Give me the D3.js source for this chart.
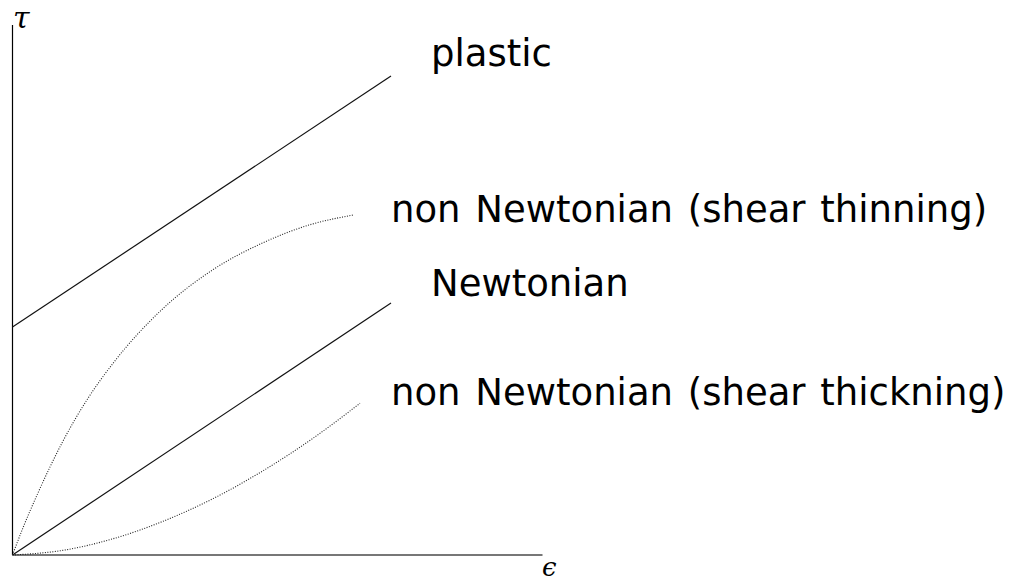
<!DOCTYPE html>
<html>
<head>
<meta charset="utf-8">
<script src="https://cdn.jsdelivr.net/npm/d3@7"></script>
<style>
  html, body { margin: 0; padding: 0; background: #fff; }
  svg { display: block; }
</style>
</head>
<body>
<svg id="chart" width="1013" height="584"></svg>
<script>
// Shear strain (epsilon) vs shear stress (tau) for several fluid models
const plasticX = [0, 3.785];
const plasticY = [2.28, 4.79];

const newtonianX = [0, 3.785];
const newtonianY = [0, 2.52];

const thinningX = [0, 0.1, 0.25, 0.5, 0.75, 1.0, 1.5, 2.0, 2.5, 3.0, 3.41];
const thinningY = [0, 0.26, 0.61, 1.13, 1.56, 1.91, 2.46, 2.85, 3.12, 3.31, 3.40];

const thickeningX = [0, 0.5, 1.0, 1.5, 2.0, 2.5, 3.0, 3.475];
const thickeningY = [0, 0.046, 0.161, 0.335, 0.561, 0.839, 1.164, 1.517];

const labelTexts = ["plastic", "non Newtonian (shear thinning)", "Newtonian", "non Newtonian (shear thickning)"];
const labelX = [4.185, 3.785, 4.185, 3.785];
const labelY = [4.89, 3.33, 2.59, 1.50];

const svg = d3.select("#chart");

const x = d3.scaleLinear().domain([0, 5.3]).range([12.5, 542.5]);
const y = d3.scaleLinear().domain([0, 5.3]).range([555, 25]);

const line = d3.line().x(d => x(d[0])).y(d => y(d[1]));
const smooth = d3.line().x(d => x(d[0])).y(d => y(d[1])).curve(d3.curveMonotoneX);
const zip = (a, b) => a.map((v, i) => [v, b[i]]);

// axes
svg.append("line")
  .attr("x1", x(0)).attr("x2", x(0))
  .attr("y1", y(0)).attr("y2", y(5.3))
  .attr("stroke", "#000").attr("stroke-width", 1.2);
svg.append("line")
  .attr("x1", x(0)).attr("x2", x(5.3))
  .attr("y1", y(0)).attr("y2", y(0))
  .attr("stroke", "#777").attr("stroke-width", 2);

// axis symbols
svg.append("text")
  .attr("x", 13).attr("y", 28)
  .attr("font-family", "DejaVu Serif")
  .attr("font-style", "italic")
  .attr("font-size", 30)
  .text("τ");
svg.append("text")
  .attr("x", 542).attr("y", 576)
  .attr("font-family", "DejaVu Serif")
  .attr("font-style", "italic")
  .attr("font-size", 26)
  .text("ϵ");

// straight lines
svg.append("path").datum(zip(plasticX, plasticY))
  .attr("d", line).attr("fill", "none")
  .attr("stroke", "#111").attr("stroke-width", 1.2);
svg.append("path").datum(zip(newtonianX, newtonianY))
  .attr("d", line).attr("fill", "none")
  .attr("stroke", "#111").attr("stroke-width", 1.2);

// dotted curves
svg.append("path").datum(zip(thinningX, thinningY))
  .attr("d", smooth).attr("fill", "none")
  .attr("stroke", "#222").attr("stroke-width", 1.1)
  .attr("stroke-dasharray", "1,1.5");
svg.append("path").datum(zip(thickeningX, thickeningY))
  .attr("d", smooth).attr("fill", "none")
  .attr("stroke", "#222").attr("stroke-width", 1.1)
  .attr("stroke-dasharray", "1,1.5");

// labels
svg.selectAll("text.lbl")
  .data(labelTexts)
  .join("text")
  .attr("class", "lbl")
  .attr("x", (d, i) => x(labelX[i]))
  .attr("y", (d, i) => y(labelY[i]))
  .attr("font-family", "DejaVu Sans")
  .attr("font-size", 37)
  .attr("word-spacing", 3)
  .attr("fill", "#000")
  .text(d => d);
</script>
</body>
</html>
